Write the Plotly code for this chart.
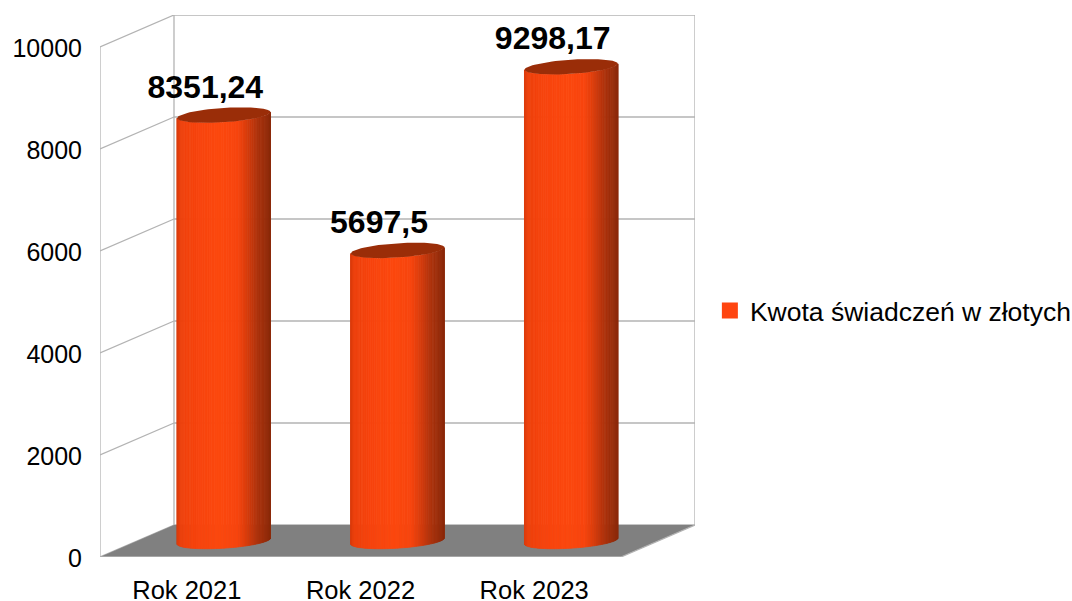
import numpy as np
import plotly.graph_objects as go

categories = ["Rok 2021", "Rok 2022", "Rok 2023"]
values = [8351.24, 5697.5, 9298.17]
series_name = "Kwota świadczeń w złotych"
y_ticks = [0, 2000, 4000, 6000, 8000, 10000]

# oblique projection: a point (category, value, depth 0..1) -> data coordinates
DEPTH_X = 74 / (521 / 3)
DEPTH_Y = 32 / 0.051
def proj(c, v, d):
    return c + d * DEPTH_X, v + d * DEPTH_Y

GRID = "#b3b3b3"
FLOOR = "#808080"
TOP = "#9a2d08"
FONT = "Liberation Sans"
stops = [(0, "#d93b0c"), (0.04, "#ee410d"), (0.2, "#f7440e"), (0.45, "#fc480f"), (0.65, "#f8450e"),
         (0.75, "#d83c0c"), (0.87, "#ab320c"), (1, "#8c2a0a")]

def shade(f):
    xs = [s[0] for s in stops]
    rgb = [[int(s[1][i:i + 2], 16) for s in stops] for i in (1, 3, 5)]
    return "rgb(%d,%d,%d)" % tuple(np.interp(f, xs, ch) for ch in rgb)

fig = go.Figure()

def poly(pts, color, width=0):
    xs, ys = zip(*pts)
    fig.add_trace(go.Scatter(x=list(xs), y=list(ys), mode="lines", fill="toself", fillcolor=color,
                             line=dict(color=color, width=width), hoverinfo="skip", showlegend=False))

def line(p, q):
    fig.add_trace(go.Scatter(x=[p[0], q[0]], y=[p[1], q[1]], mode="lines",
                             line=dict(color=GRID, width=1.3), hoverinfo="skip", showlegend=False))

n = len(categories)
top = y_ticks[-1]
# walls
for t in y_ticks:
    line(proj(0, t, 0), proj(0, t, 1))
    line(proj(0, t, 1), proj(n, t, 1))
line(proj(0, 0, 0), proj(0, top, 0))
line(proj(0, 0, 1), proj(0, top, 1))
line(proj(n, 0, 1), proj(n, top, 1))
# floor
poly([proj(0, 0, 0), proj(n, 0, 0), proj(n, 0, 1), proj(0, 0, 1), proj(0, 0, 0)], FLOOR)
line(proj(0, 0, 0), proj(n, 0, 0))
line(proj(n, 0, 0), proj(n, 0, 1))

# cylinders
RX = 43.1 / (521 / 3)
RD = 0.242
skew = np.arctan2(RD * DEPTH_X, RX)
def ring(cat, v, t):
    return proj(cat + RX * np.cos(t), v, 0.5 + RD * np.sin(t))

N = 60
for i, v in enumerate(values):
    cat = i + 0.5
    ts = np.linspace(np.pi + skew, 2 * np.pi + skew, N + 1)
    x0, x1 = ring(cat, v, ts[0])[0], ring(cat, v, ts[-1])[0]
    for a, b in zip(ts[:-1], ts[1:]):
        mid = ring(cat, v, (a + b) / 2)[0]
        sub = np.linspace(a, b, 3)
        pts = [ring(cat, 0, s) for s in sub] + [ring(cat, v, s) for s in sub[::-1]]
        pts.append(pts[0])
        poly(pts, shade((mid - x0) / (x1 - x0)), width=0.8)
    tt = np.linspace(0, 2 * np.pi, 80)
    poly([ring(cat, v, s) for s in tt], TOP)

# value labels, lifted clear of the cylinder tops
LIFT = 340
lx, ly = zip(*[proj(i + 0.5, v + LIFT, 0.25) for i, v in enumerate(values)])
fig.add_trace(go.Scatter(x=list(lx), y=list(ly), mode="text", text=[str(v).replace(".", ",") for v in values],
                         textposition="top center", cliponaxis=False, hoverinfo="skip", showlegend=False,
                         textfont=dict(family=FONT, size=32, color="#000000", weight="bold")))
# legend
fig.add_trace(go.Scatter(x=[None], y=[None], mode="markers", name=series_name,
                         marker=dict(symbol="square", size=16, color="#ff4510")))

fig.update_layout(
    width=1072, height=601, autosize=False,
    margin=dict(l=100, r=377, t=15, b=44, pad=0, autoexpand=False),
    paper_bgcolor="#ffffff", plot_bgcolor="#ffffff",
    font=dict(family=FONT, size=25, color="#000000"),
    xaxis=dict(range=[0, n + DEPTH_X], tickmode="array", tickvals=[i + 0.5 for i in range(n)], ticktext=categories,
               showgrid=False, zeroline=False, showline=False, ticks="", tickfont=dict(size=25.5),
               ticklabelstandoff=15, fixedrange=True),
    yaxis=dict(range=[0, top + DEPTH_Y], tickmode="array", tickvals=y_ticks, ticktext=[str(t) for t in y_ticks],
               showgrid=False, zeroline=False, showline=False, ticks="", tickfont=dict(size=25), ticklabelstandoff=17,
               ticklabelshift=1, fixedrange=True),
    legend=dict(x=1.025, xanchor="left", y=0.4545, yanchor="middle", font=dict(size=26.5), bgcolor="rgba(0,0,0,0)",
                itemwidth=30),
    showlegend=True,
)
fig.write_html("out.html", config=dict(displayModeBar=False), post_script="document.body.style.margin='0';")
